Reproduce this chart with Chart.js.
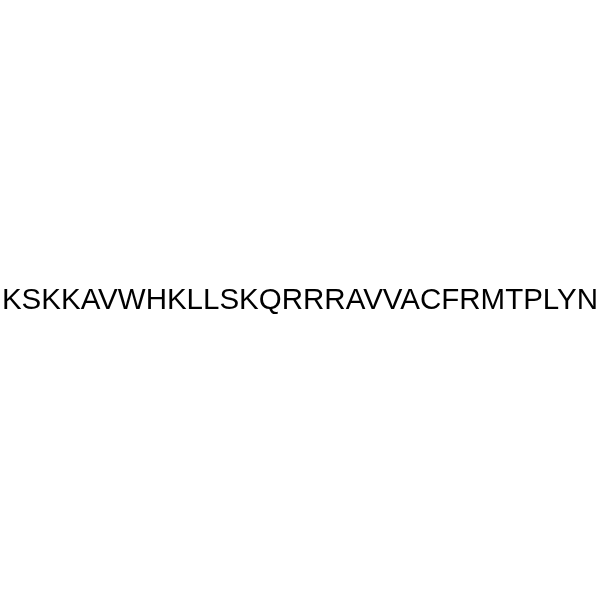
<!DOCTYPE html>
<html>
<head>
<meta charset="utf-8">
<script src="https://cdn.jsdelivr.net/npm/chart.js@4/dist/chart.umd.min.js"></script>
<style>
  html, body { margin: 0; padding: 0; background: #fff; }
  #wrap { width: 600px; height: 600px; }
</style>
</head>
<body>
<div id="wrap"><canvas id="seq" width="600" height="600"></canvas></div>
<script>
// 肽段序列（单字母氨基酸）
const residues = ['K', 'S', 'K', 'K', 'A', 'V', 'W', 'H', 'K', 'L',
                  'L', 'S', 'K', 'Q', 'R', 'R', 'R', 'A', 'V', 'V',
                  'A', 'C', 'F', 'R', 'M', 'T', 'P', 'L', 'Y', 'N'];
const sequence = residues.join('');

new Chart(document.getElementById('seq'), {
  type: 'bar',
  data: { labels: [], datasets: [] },
  options: {
    responsive: false,
    animation: false,
    devicePixelRatio: 1,
    layout: { padding: 0 },
    plugins: {
      legend: { display: false },
      tooltip: { enabled: false },
      title: {
        display: true,
        text: sequence,
        color: '#000',
        font: { family: '"Liberation Sans", Arial, sans-serif', size: 29.5, weight: 'normal', lineHeight: 1.2 },
        padding: { top: 283, bottom: 0 }
      }
    },
    scales: {
      x: { display: false },
      y: { display: false }
    }
  }
});
</script>
</body>
</html>
